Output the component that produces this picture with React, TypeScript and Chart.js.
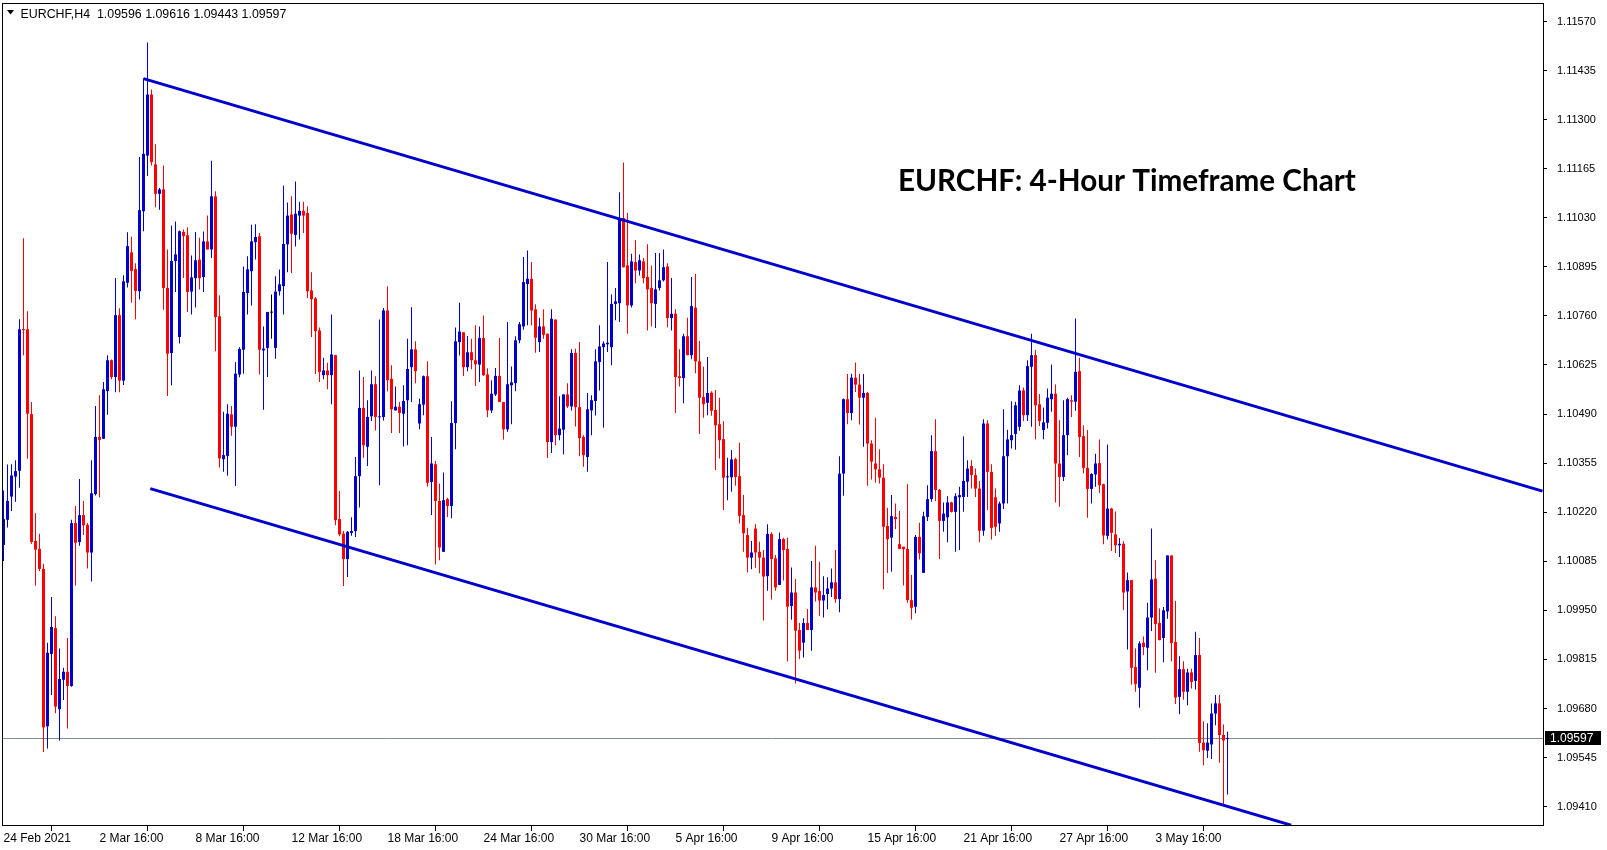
import React, { useEffect, useRef } from 'react';
import { Chart, registerables } from 'chart.js';

Chart.register(...registerables);

const opens: number[] = [
  1.10130, 1.10199, 1.10263, 1.10318, 1.10334, 1.10723, 1.10723, 1.10490, 1.10141, 1.10119,
  1.10064, 1.09631, 1.09830, 1.09901, 1.09678, 1.09759, 1.09781, 1.09742, 1.10190, 1.10138,
  1.10212, 1.10185, 1.10109, 1.10270, 1.10427, 1.10422, 1.10553, 1.10638, 1.10592, 1.10762,
  1.10582, 1.10851, 1.10935, 1.10889, 1.10828, 1.11048, 1.11201, 1.11369, 1.11177, 1.11096,
  1.11108, 1.10837, 1.10658, 1.10911, 1.10702, 1.10991, 1.10982, 1.10827, 1.10864, 1.10915,
  1.10867, 1.10965, 1.10943, 1.11089, 1.10759, 1.10366, 1.10375, 1.10489, 1.10455, 1.10599,
  1.10667, 1.10823, 1.10883, 1.10963, 1.10979, 1.10665, 1.10672, 1.10769, 1.10672, 1.10828,
  1.10842, 1.10957, 1.11039, 1.10983, 1.11036, 1.11049, 1.11043, 1.10830, 1.10808, 1.10720,
  1.10597, 1.10610, 1.10597, 1.10652, 1.10201, 1.10161, 1.10091, 1.10163, 1.10168, 1.10319,
  1.10507, 1.10400, 1.10484, 1.10572, 1.10481, 1.10482, 1.10775, 1.10587, 1.10500, 1.10510,
  1.10491, 1.10528, 1.10619, 1.10668, 1.10464, 1.10516, 1.10594, 1.10303, 1.10352, 1.10251,
  1.10111, 1.10256, 1.10237, 1.10465, 1.10688, 1.10715, 1.10619, 1.10660, 1.10638, 1.10626,
  1.10699, 1.10599, 1.10500, 1.10544, 1.10595, 1.10523, 1.10448, 1.10569, 1.10575, 1.10693,
  1.10731, 1.10848, 1.10862, 1.10778, 1.10688, 1.10731, 1.10711, 1.10413, 1.10750, 1.10432,
  1.10447, 1.10544, 1.10511, 1.10658, 1.10509, 1.10427, 1.10372, 1.10500, 1.10526, 1.10633,
  1.10674, 1.10682, 1.10674, 1.10793, 1.10795, 1.11029, 1.10899, 1.10789, 1.10908, 1.10885,
  1.10910, 1.10867, 1.10837, 1.10793, 1.10837, 1.10858, 1.10896, 1.10754, 1.10766, 1.10594,
  1.10589, 1.10704, 1.10652, 1.10783, 1.10635, 1.10537, 1.10521, 1.10549, 1.10501, 1.10462,
  1.10421, 1.10316, 1.10316, 1.10366, 1.10319, 1.10212, 1.10157, 1.10095, 1.10175, 1.10111,
  1.10095, 1.10044, 1.10160, 1.10093, 1.10020, 1.10146, 1.10119, 1.09962, 1.09999, 1.09896,
  1.09861, 1.09915, 1.09896, 1.10013, 1.10003, 1.09977, 1.09995, 1.10010, 1.10027, 1.09981,
  1.10326, 1.10531, 1.10493, 1.10590, 1.10571, 1.10535, 1.10548, 1.10409, 1.10354, 1.10338,
  1.10315, 1.10182, 1.10150, 1.10207, 1.10132, 1.10125, 1.10119, 1.09978, 1.09960, 1.10152,
  1.10053, 1.10207, 1.10256, 1.10388, 1.10281, 1.10196, 1.10206, 1.10247, 1.10221, 1.10261,
  1.10262, 1.10304, 1.10347, 1.10322, 1.10285, 1.10169, 1.10464, 1.10331, 1.10261, 1.10189,
  1.10244, 1.10374, 1.10418, 1.10435, 1.10455, 1.10555, 1.10487, 1.10620, 1.10652, 1.10517,
  1.10446, 1.10466, 1.10531, 1.10546, 1.10354, 1.10317, 1.10432, 1.10528, 1.10524, 1.10608,
  1.10429, 1.10342, 1.10284, 1.10324, 1.10355, 1.10297, 1.10155, 1.10230, 1.10159, 1.10129,
  1.10133, 1.10002, 1.10033, 1.09794, 1.09737, 1.09861, 1.09847, 1.09930, 1.10037, 1.09915,
  1.09874, 1.09947, 1.10101, 1.09863, 1.09712, 1.09788, 1.09726, 1.09779, 1.09756, 1.09827,
  1.09586, 1.09564, 1.09581, 1.09666, 1.09694, 1.09607, 1.09596,
];

const highs: number[] = [
  1.10280, 1.10351, 1.10352, 1.10363, 1.10751, 1.10974, 1.10773, 1.10523, 1.10217, 1.10161,
  1.10078, 1.09861, 1.09987, 1.09934, 1.09845, 1.09792, 1.09874, 1.10199, 1.10237, 1.10311,
  1.10251, 1.10190, 1.10363, 1.10512, 1.10542, 1.10578, 1.10652, 1.10640, 1.10864, 1.10781,
  1.10872, 1.10990, 1.10978, 1.10905, 1.11197, 1.11414, 1.11512, 1.11383, 1.11232, 1.11112,
  1.11174, 1.10943, 1.11009, 1.11020, 1.10995, 1.10998, 1.11004, 1.10926, 1.10991, 1.10975,
  1.10992, 1.11036, 1.11187, 1.11103, 1.10817, 1.10496, 1.10517, 1.10512, 1.10633, 1.10674,
  1.10896, 1.10924, 1.11011, 1.11012, 1.10988, 1.10731, 1.10771, 1.10819, 1.10869, 1.10888,
  1.11119, 1.11072, 1.11089, 1.11130, 1.11074, 1.11074, 1.11061, 1.10880, 1.10812, 1.10728,
  1.10645, 1.10631, 1.10764, 1.10653, 1.10278, 1.10168, 1.10168, 1.10206, 1.10372, 1.10610,
  1.10592, 1.10528, 1.10610, 1.10594, 1.10750, 1.10782, 1.10841, 1.10624, 1.10566, 1.10523,
  1.10569, 1.10697, 1.10784, 1.10690, 1.10532, 1.10596, 1.10635, 1.10427, 1.10361, 1.10299,
  1.10329, 1.10260, 1.10525, 1.10728, 1.10796, 1.10715, 1.10705, 1.10697, 1.10734, 1.10731,
  1.10761, 1.10616, 1.10583, 1.10617, 1.10699, 1.10523, 1.10743, 1.10621, 1.10704, 1.10743,
  1.10922, 1.10940, 1.10908, 1.10792, 1.10755, 1.10778, 1.10711, 1.10778, 1.10750, 1.10539,
  1.10544, 1.10575, 1.10668, 1.10670, 1.10688, 1.10432, 1.10548, 1.10542, 1.10668, 1.10734,
  1.10690, 1.10908, 1.10819, 1.10837, 1.11100, 1.11182, 1.11043, 1.10931, 1.10968, 1.10929,
  1.10919, 1.10957, 1.10899, 1.10933, 1.10933, 1.10943, 1.10905, 1.10864, 1.10778, 1.10668,
  1.10711, 1.10755, 1.10867, 1.10875, 1.10691, 1.10620, 1.10647, 1.10553, 1.10556, 1.10535,
  1.10470, 1.10370, 1.10391, 1.10370, 1.10411, 1.10267, 1.10177, 1.10141, 1.10187, 1.10139,
  1.10116, 1.10187, 1.10165, 1.10102, 1.10164, 1.10150, 1.10150, 1.10068, 1.10036, 1.09915,
  1.09928, 1.09954, 1.10086, 1.10128, 1.10084, 1.10044, 1.10041, 1.10065, 1.10116, 1.10374,
  1.10533, 1.10600, 1.10601, 1.10632, 1.10601, 1.10600, 1.10551, 1.10418, 1.10480, 1.10393,
  1.10352, 1.10232, 1.10267, 1.10244, 1.10223, 1.10125, 1.10297, 1.10047, 1.10157, 1.10191,
  1.10221, 1.10294, 1.10432, 1.10476, 1.10284, 1.10247, 1.10264, 1.10249, 1.10272, 1.10290,
  1.10429, 1.10363, 1.10363, 1.10340, 1.10306, 1.10476, 1.10473, 1.10352, 1.10285, 1.10249,
  1.10503, 1.10447, 1.10525, 1.10524, 1.10569, 1.10563, 1.10638, 1.10711, 1.10666, 1.10545,
  1.10508, 1.10560, 1.10626, 1.10571, 1.10473, 1.10528, 1.10535, 1.10542, 1.10753, 1.10645,
  1.10459, 1.10446, 1.10327, 1.10381, 1.10420, 1.10298, 1.10406, 1.10232, 1.10222, 1.10149,
  1.10140, 1.10054, 1.10033, 1.09845, 1.09865, 1.09878, 1.09971, 1.10175, 1.10088, 1.09955,
  1.09959, 1.10101, 1.10101, 1.09976, 1.09824, 1.09810, 1.09789, 1.09789, 1.09891, 1.09874,
  1.09645, 1.09639, 1.09694, 1.09717, 1.09717, 1.09636, 1.09616,
];

const lows: number[] = [
  1.10086, 1.10178, 1.10223, 1.10249, 1.10287, 1.10652, 1.10367, 1.10133, 1.10018, 1.10058,
  1.09560, 1.09570, 1.09717, 1.09667, 1.09592, 1.09703, 1.09625, 1.09740, 1.10018, 1.10128,
  1.10157, 1.10065, 1.10029, 1.10266, 1.10261, 1.10422, 1.10488, 1.10586, 1.10550, 1.10550,
  1.10570, 1.10838, 1.10796, 1.10751, 1.10805, 1.10993, 1.11145, 1.11174, 1.11059, 1.11052,
  1.10777, 1.10540, 1.10569, 1.10826, 1.10684, 1.10864, 1.10771, 1.10764, 1.10783, 1.10833,
  1.10826, 1.10943, 1.10919, 1.10663, 1.10343, 1.10331, 1.10320, 1.10430, 1.10292, 1.10591,
  1.10601, 1.10764, 1.10789, 1.10915, 1.10599, 1.10502, 1.10592, 1.10697, 1.10642, 1.10816,
  1.10764, 1.10880, 1.10878, 1.10951, 1.10970, 1.10988, 1.10809, 1.10702, 1.10600, 1.10578,
  1.10586, 1.10558, 1.10517, 1.10184, 1.10154, 1.10017, 1.10042, 1.10155, 1.10152, 1.10233,
  1.10370, 1.10347, 1.10471, 1.10445, 1.10294, 1.10472, 1.10553, 1.10438, 1.10500, 1.10438,
  1.10401, 1.10404, 1.10523, 1.10575, 1.10448, 1.10487, 1.10291, 1.10212, 1.10076, 1.10088,
  1.10111, 1.10207, 1.10203, 1.10393, 1.10651, 1.10595, 1.10608, 1.10613, 1.10567, 1.10578,
  1.10595, 1.10481, 1.10493, 1.10540, 1.10523, 1.10420, 1.10441, 1.10462, 1.10553, 1.10685,
  1.10722, 1.10734, 1.10734, 1.10659, 1.10661, 1.10697, 1.10369, 1.10383, 1.10404, 1.10418,
  1.10379, 1.10507, 1.10500, 1.10456, 1.10374, 1.10345, 1.10331, 1.10432, 1.10486, 1.10555,
  1.10452, 1.10661, 1.10624, 1.10748, 1.10743, 1.10893, 1.10711, 1.10783, 1.10850, 1.10871,
  1.10850, 1.10720, 1.10731, 1.10727, 1.10830, 1.10855, 1.10729, 1.10720, 1.10493, 1.10566,
  1.10520, 1.10652, 1.10641, 1.10602, 1.10435, 1.10480, 1.10487, 1.10485, 1.10336, 1.10368,
  1.10226, 1.10253, 1.10276, 1.10293, 1.10189, 1.10111, 1.10054, 1.10063, 1.10067, 1.10052,
  1.09922, 1.10004, 1.09980, 1.10004, 1.10020, 1.10032, 1.09809, 1.09924, 1.09749, 1.09816,
  1.09820, 1.09896, 1.09839, 1.09974, 1.09935, 1.09930, 1.09953, 1.09987, 1.09971, 1.09945,
  1.10265, 1.10462, 1.10473, 1.10551, 1.10461, 1.10400, 1.10293, 1.10310, 1.10302, 1.10299,
  1.10008, 1.10053, 1.10056, 1.10174, 1.10119, 1.10018, 1.09971, 1.09925, 1.09942, 1.10090,
  1.10053, 1.10196, 1.10249, 1.10251, 1.10091, 1.10166, 1.10137, 1.10219, 1.10111, 1.10116,
  1.10221, 1.10262, 1.10285, 1.10262, 1.10137, 1.10155, 1.10226, 1.10145, 1.10155, 1.10166,
  1.10229, 1.10244, 1.10395, 1.10392, 1.10444, 1.10471, 1.10471, 1.10455, 1.10421, 1.10457,
  1.10421, 1.10450, 1.10496, 1.10247, 1.10235, 1.10306, 1.10377, 1.10482, 1.10499, 1.10372,
  1.10327, 1.10205, 1.10244, 1.10290, 1.10273, 1.10132, 1.10145, 1.10113, 1.10108, 1.10097,
  1.09950, 1.09842, 1.09745, 1.09726, 1.09682, 1.09827, 1.09785, 1.09893, 1.09778, 1.09868,
  1.09807, 1.09927, 1.09810, 1.09692, 1.09664, 1.09704, 1.09689, 1.09735, 1.09732, 1.09561,
  1.09524, 1.09544, 1.09541, 1.09634, 1.09531, 1.09416, 1.09443,
];

const closes: number[] = [
  1.10201, 1.10251, 1.10321, 1.10333, 1.10723, 1.10721, 1.10491, 1.10138, 1.10117, 1.10064,
  1.09628, 1.09833, 1.09904, 1.09685, 1.09761, 1.09781, 1.09742, 1.10190, 1.10136, 1.10212,
  1.10184, 1.10109, 1.10272, 1.10427, 1.10419, 1.10558, 1.10638, 1.10592, 1.10762, 1.10582,
  1.10855, 1.10952, 1.10884, 1.10829, 1.11051, 1.11206, 1.11369, 1.11183, 1.11096, 1.11108,
  1.10837, 1.10656, 1.10911, 1.10929, 1.10993, 1.10980, 1.10826, 1.10866, 1.10913, 1.10864,
  1.10965, 1.10943, 1.11089, 1.10757, 1.10368, 1.10377, 1.10491, 1.10455, 1.10601, 1.10669,
  1.10826, 1.10888, 1.10965, 1.10977, 1.10667, 1.10670, 1.10771, 1.10769, 1.10827, 1.10847,
  1.10958, 1.11036, 1.10986, 1.11041, 1.11049, 1.11036, 1.10828, 1.10806, 1.10718, 1.10606,
  1.10610, 1.10597, 1.10654, 1.10198, 1.10159, 1.10091, 1.10166, 1.10168, 1.10319, 1.10507,
  1.10404, 1.10482, 1.10572, 1.10482, 1.10483, 1.10775, 1.10583, 1.10503, 1.10510, 1.10493,
  1.10526, 1.10614, 1.10668, 1.10608, 1.10517, 1.10594, 1.10301, 1.10354, 1.10251, 1.10123,
  1.10253, 1.10237, 1.10465, 1.10690, 1.10717, 1.10619, 1.10660, 1.10638, 1.10627, 1.10699,
  1.10597, 1.10500, 1.10546, 1.10595, 1.10523, 1.10448, 1.10572, 1.10577, 1.10693, 1.10737,
  1.10853, 1.10862, 1.10775, 1.10700, 1.10731, 1.10708, 1.10413, 1.10752, 1.10432, 1.10450,
  1.10544, 1.10511, 1.10658, 1.10509, 1.10424, 1.10377, 1.10503, 1.10528, 1.10635, 1.10676,
  1.10684, 1.10686, 1.10793, 1.10800, 1.11027, 1.10894, 1.10789, 1.10910, 1.10885, 1.10913,
  1.10864, 1.10833, 1.10795, 1.10833, 1.10858, 1.10894, 1.10754, 1.10766, 1.10592, 1.10589,
  1.10704, 1.10652, 1.10787, 1.10635, 1.10535, 1.10517, 1.10548, 1.10499, 1.10459, 1.10418,
  1.10315, 1.10318, 1.10365, 1.10317, 1.10210, 1.10162, 1.10095, 1.10109, 1.10109, 1.10095,
  1.10043, 1.10160, 1.10091, 1.10013, 1.10146, 1.10116, 1.09960, 1.09999, 1.09894, 1.09839,
  1.09915, 1.09896, 1.10013, 1.09999, 1.09977, 1.09992, 1.10010, 1.10027, 1.09981, 1.10326,
  1.10531, 1.10493, 1.10590, 1.10571, 1.10535, 1.10548, 1.10409, 1.10359, 1.10338, 1.10315,
  1.10180, 1.10146, 1.10209, 1.10201, 1.10119, 1.10118, 1.09978, 1.09957, 1.10152, 1.10107,
  1.10209, 1.10256, 1.10388, 1.10281, 1.10196, 1.10216, 1.10247, 1.10221, 1.10264, 1.10267,
  1.10306, 1.10340, 1.10322, 1.10285, 1.10169, 1.10464, 1.10331, 1.10177, 1.10180, 1.10244,
  1.10374, 1.10420, 1.10432, 1.10514, 1.10555, 1.10487, 1.10622, 1.10652, 1.10514, 1.10471,
  1.10467, 1.10535, 1.10546, 1.10354, 1.10317, 1.10432, 1.10531, 1.10524, 1.10606, 1.10427,
  1.10342, 1.10284, 1.10325, 1.10354, 1.10294, 1.10156, 1.10230, 1.10163, 1.10129, 1.10133,
  1.09999, 1.10033, 1.09792, 1.09747, 1.09859, 1.09849, 1.09930, 1.10035, 1.09912, 1.09868,
  1.09950, 1.10101, 1.09860, 1.09710, 1.09788, 1.09726, 1.09779, 1.09753, 1.09827, 1.09585,
  1.09565, 1.09586, 1.09666, 1.09694, 1.09607, 1.09592, 1.09597,
];

const xTickBars: number[] = [0, 24, 48, 72, 96, 120, 144, 168, 192, 216, 240, 264, 288];
const xTickLabels: string[] = [
  '24 Feb 2021', '2 Mar 16:00', '8 Mar 16:00', '12 Mar 16:00', '18 Mar 16:00', '24 Mar 16:00',
  '30 Mar 16:00', '5 Apr 16:00', '9 Apr 16:00', '15 Apr 16:00', '21 Apr 16:00', '27 Apr 16:00', '3 May 16:00',
];
const yTickValues: number[] = [
  1.0941, 1.09545, 1.0968, 1.09815, 1.0995, 1.10085, 1.1022, 1.10355, 1.1049,
  1.10625, 1.1076, 1.10895, 1.1103, 1.11165, 1.113, 1.11435, 1.1157,
];
const upperTrend = [{ x: 35.0, y: 1.11413 }, { x: 384.75, y: 1.10278 }];
const lowerTrend = [{ x: 36.7, y: 1.10285 }, { x: 321.9, y: 1.09359 }];
const headerSymbol = 'EURCHF,H4';
const headerOHLC: number[] = [1.09596, 1.09616, 1.09443, 1.09597];
const chartTitle = 'EURCHF: 4-Hour Timeframe Chart';
const currentPrice = 1.09597;

const X_MIN = -0.375;
const X_MAX = 384.875;
const Y_MIN = 1.093594;
const Y_MAX = 1.116209;

const BULL = '#0000CD';
const BEAR = '#FF0000';
const DOJI = '#000000';
const TREND = '#0000CD';
const PRICE_LINE = '#7f8c9b';
const FONT_FAMILY = '"Liberation Sans", Arial, sans-serif';

const overlayPlugin = {
  id: 'mtOverlay',
  beforeDatasetsDraw(chart: any) {
    const { ctx, chartArea: a, scales } = chart;
    const py = Math.floor(scales.y.getPixelForValue(currentPrice)) + 0.5;
    ctx.save();
    ctx.strokeStyle = PRICE_LINE;
    ctx.lineWidth = 1;
    ctx.beginPath();
    ctx.moveTo(a.left, py);
    ctx.lineTo(a.right, py);
    ctx.stroke();
    ctx.restore();
  },
  afterDraw(chart: any) {
    const { ctx, chartArea: a, scales } = chart;
    ctx.save();
    // frame
    ctx.strokeStyle = '#000';
    ctx.lineWidth = 1;
    ctx.strokeRect(a.left + 0.5, a.top + 0.5, a.right - a.left, a.bottom - a.top);

    // header
    const headerText = headerSymbol + '  ' + headerOHLC.map((v) => v.toFixed(5)).join(' ');
    ctx.font = '12px ' + FONT_FAMILY;
    const w12 = ctx.measureText(headerText).width;
    const hs = (12 * 266) / w12;
    ctx.font = hs.toFixed(2) + 'px ' + FONT_FAMILY;
    ctx.fillStyle = '#000';
    ctx.textBaseline = 'alphabetic';
    ctx.textAlign = 'left';
    ctx.fillText(headerText, 20.5, 17.5);
    ctx.beginPath();
    ctx.moveTo(7, 10);
    ctx.lineTo(14, 10);
    ctx.lineTo(10.5, 14.5);
    ctx.closePath();
    ctx.fill();

    // title
    ctx.font = 'bold 33px Lato, ' + FONT_FAMILY;
    const tw = ctx.measureText(chartTitle).width;
    const ts = (33 * 458) / tw;
    ctx.font = 'bold ' + ts.toFixed(2) + 'px Lato, ' + FONT_FAMILY;
    ctx.fillText(chartTitle, 898, 191);

    // price label
    const py = Math.floor(scales.y.getPixelForValue(currentPrice)) + 0.5;
    ctx.fillStyle = '#000';
    ctx.fillRect(1545, Math.round(py - 7.5), 56, 14);
    ctx.fillStyle = '#fff';
    ctx.font = '12px ' + FONT_FAMILY;
    ctx.textBaseline = 'middle';
    ctx.fillText(currentPrice.toFixed(5), 1550, py);
    ctx.restore();
  },
};

export default function App() {
  const ref = useRef<HTMLCanvasElement | null>(null);

  useEffect(() => {
    const canvas = ref.current;
    if (!canvas) return;
    const colors = opens.map((o, i) => (closes[i] > o ? BULL : closes[i] < o ? BEAR : DOJI));

    const chart = new Chart(canvas, {
      type: 'bar',
      data: {
        datasets: [
          {
            type: 'line',
            label: 'upper',
            data: upperTrend,
            borderColor: TREND,
            borderWidth: 3,
            pointRadius: 0,
            order: 1,
          } as any,
          {
            type: 'line',
            label: 'lower',
            data: lowerTrend,
            borderColor: TREND,
            borderWidth: 3,
            pointRadius: 0,
            order: 1,
          } as any,
          {
            type: 'bar',
            label: 'bodies',
            data: opens.map((o, i) => ({ x: i, y: [o, closes[i]] })),
            backgroundColor: colors,
            barThickness: 3,
            grouped: false,
            minBarLength: 1,
            inflateAmount: 0,
            borderWidth: 0,
            order: 2,
          } as any,
          {
            type: 'bar',
            label: 'wicks',
            data: lows.map((l, i) => ({ x: i, y: [l, highs[i]] })),
            backgroundColor: colors,
            barThickness: 1,
            grouped: false,
            minBarLength: 1,
            inflateAmount: 0,
            borderWidth: 0,
            order: 3,
          } as any,
        ],
      },
      options: {
        responsive: false,
        animation: false,
        events: [],
        layout: { padding: { left: 2, top: 3, right: 0, bottom: 0 } },
        plugins: {
          legend: { display: false },
          tooltip: { enabled: false },
          title: { display: false },
        },
        scales: {
          x: {
            type: 'linear',
            position: 'bottom',
            min: X_MIN,
            max: X_MAX,
            offset: false,
            afterBuildTicks: (s: any) => {
              s.ticks = xTickBars.map((v) => ({ value: v }));
            },
            afterFit: (s: any) => {
              s.height = 25;
              s.paddingLeft = 0;
              s.paddingRight = 0;
              s.paddingTop = 0;
              s.paddingBottom = 0;
            },
            ticks: {
              autoSkip: false,
              maxRotation: 0,
              minRotation: 0,
              align: 'start',
              padding: 0,
              color: '#000',
              font: { family: FONT_FAMILY, size: 12 },
              callback: (_v: any, i: number) => xTickLabels[i],
            },
            grid: {
              display: true,
              drawOnChartArea: false,
              drawTicks: true,
              tickLength: 6,
              color: '#000',
              lineWidth: 1,
            },
            border: { display: false },
          },
          y: {
            type: 'linear',
            position: 'right',
            min: Y_MIN,
            max: Y_MAX,
            afterBuildTicks: (s: any) => {
              s.ticks = yTickValues.map((v) => ({ value: v }));
            },
            afterFit: (s: any) => {
              s.width = 64;
              s.paddingLeft = 0;
              s.paddingRight = 0;
              s.paddingTop = 0;
              s.paddingBottom = 0;
            },
            ticks: {
              padding: 10,
              color: '#000',
              font: { family: FONT_FAMILY, size: 11 },
              callback: (v: any) => Number(v).toFixed(5),
            },
            grid: {
              display: true,
              drawOnChartArea: false,
              drawTicks: true,
              tickLength: 4,
              color: '#000',
              lineWidth: 1,
            },
            border: { display: false },
          },
        },
      } as any,
      plugins: [overlayPlugin],
    });

    return () => {
      chart.destroy();
    };
  }, []);

  return (
    <div style={{ position: 'absolute', left: 0, top: 0, width: 1607, height: 850, background: '#fff' }}>
      <canvas ref={ref} width={1607} height={850} style={{ display: 'block' }} />
    </div>
  );
}
